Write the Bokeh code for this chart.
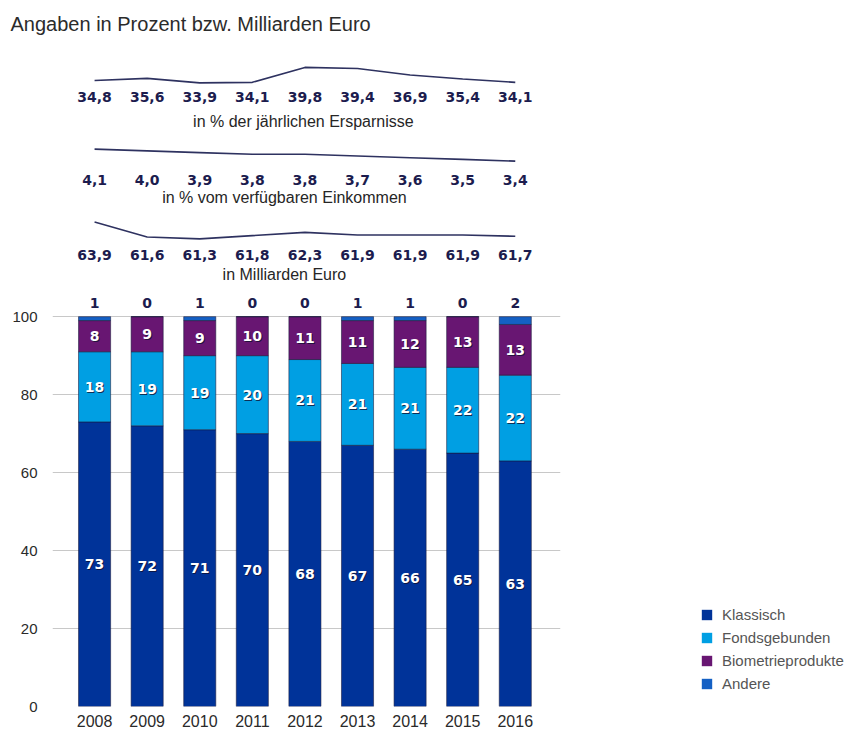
from bokeh.plotting import figure
from bokeh.layouts import row
from bokeh.models import ColumnDataSource, Range1d, FixedTicker, Legend, LegendItem
from bokeh.core.properties import value
from bokeh.embed import file_html
from bokeh.resources import INLINE

# ---------------- data ----------------
years = [2008, 2009, 2010, 2011, 2012, 2013, 2014, 2015, 2016]
klassisch = [73, 72, 71, 70, 68, 67, 66, 65, 63]
fondsgebunden = [18, 19, 19, 20, 21, 21, 21, 22, 22]
biometrie = [8, 9, 9, 10, 11, 11, 12, 13, 13]
andere = [1, 0, 1, 0, 0, 1, 1, 0, 2]
ersparnisse_pct = [34.8, 35.6, 33.9, 34.1, 39.8, 39.4, 36.9, 35.4, 34.1]
einkommen_pct = [4.1, 4.0, 3.9, 3.8, 3.8, 3.7, 3.6, 3.5, 3.4]
mrd_euro = [63.9, 61.6, 61.3, 61.8, 62.3, 61.9, 61.9, 61.9, 61.7]
y_ticks = [0, 20, 40, 60, 80, 100]
series_names = ["Klassisch", "Fondsgebunden", "Biometrieprodukte", "Andere"]
captions = ["in % der jährlichen Ersparnisse", "in % vom verfügbaren Einkommen", "in Milliarden Euro"]
title_text = "Angaben in Prozent bzw. Milliarden Euro"

# ---------------- layout constants (page pixels) ----------------
W, H = 861, 729
FL, FR = 52, 560          # frame left / right
FT, FB = 34, 708          # frame top / bottom
P100 = 317                # pixel row of the 100 % line
WMAIN = FR + 8
Y_END = 100.0 * (FB - FT) / (FB - P100)

def yrow(py):
    """convert a page pixel row into main-axis units"""
    return (FB - py) * 100.0 / (FB - P100)

def band_range(vals, py_hi, py_lo):
    vmax, vmin = max(vals), min(vals)
    s = (py_lo - py_hi) / (vmax - vmin)
    return Range1d(vmax - (FB - py_hi) / s, vmax + (py_hi - FT) / s)

colors = ["#003399", "#009fe3", "#681672", "#1460c4"]
navy = "#1c1c4e"
line_col = "#2e3260"
VAL_FONT = "DejaVu Sans"
TXT_FONT = "Liberation Sans"

p = figure(width=WMAIN, height=H, output_backend="svg", toolbar_location=None,
           x_range=Range1d(2007.2, 2016.86), y_range=Range1d(0, Y_END),
           min_border_left=FL, min_border_right=WMAIN - FR,
           min_border_top=FT, min_border_bottom=H - FB)
p.outline_line_color = None
p.background_fill_color = "white"
p.border_fill_color = "white"

# ---------------- title ----------------
p.title.text = title_text
p.title.align = "left"
p.title.offset = 10 - FL
p.title.text_font = TXT_FONT
p.title.text_font_size = "20px"
p.title.text_font_style = "normal"
p.title.text_color = "#2b2b2b"
p.title.standoff = 0

# ---------------- stacked bars ----------------
src = ColumnDataSource(dict(year=years, klassisch=klassisch, fonds=fondsgebunden,
                            bio=biometrie, andere=andere))
rs = p.vbar_stack(["klassisch", "fonds", "bio", "andere"], x="year", width=0.61,
                  color=colors, line_color="#1a1a3c", line_alpha=0.7, line_width=0.8,
                  source=src)

# labels inside bars
lab_x, lab_y, lab_t = [], [], []
for i, yr in enumerate(years):
    base = 0
    for vals in (klassisch, fondsgebunden, biometrie):
        lab_x.append(yr)
        lab_y.append(base + vals[i] / 2.0)
        lab_t.append(str(vals[i]))
        base += vals[i]
lsrc = ColumnDataSource(dict(x=lab_x, y=lab_y, t=lab_t))
p.text(x="x", y="y", text="t", source=lsrc, text_font=value(VAL_FONT), text_font_style="bold",
       text_font_size="14px", text_align="center", text_baseline="middle",
       text_color="#101030", text_alpha=0.8, x_offset=1, y_offset=1)
p.text(x="x", y="y", text="t", source=lsrc, text_font=value(VAL_FONT), text_font_style="bold",
       text_font_size="14px", text_align="center", text_baseline="middle", text_color="white")

# "Andere" values above bars
asrc = ColumnDataSource(dict(x=years, y=[yrow(303)] * len(years), t=[str(v) for v in andere]))
p.text(x="x", y="y", text="t", source=asrc, text_font=value(VAL_FONT), text_font_style="bold",
       text_font_size="14px", text_align="center", text_baseline="middle", text_color=navy)

# ---------------- small line charts ----------------
rows = [
    (ersparnisse_pct, 67, 82.5, 97, 121, 2011.97),
    (einkommen_pct, 149, 161, 180, 197, 2011.61),
    (mrd_euro, 222, 239, 255, 275, 2011.61),
]
for k, (vals, py_hi, py_lo, py_val, py_cap, cap_x) in enumerate(rows):
    name = f"l{k}"
    p.extra_y_ranges[name] = band_range(vals, py_hi, py_lo)
    p.line(x=years, y=vals, y_range_name=name, line_color=line_col, line_width=1.6)
    vsrc = ColumnDataSource(dict(x=years, y=[yrow(py_val)] * len(years),
                                 t=[f"{v:.1f}".replace(".", ",") for v in vals]))
    p.text(x="x", y="y", text="t", source=vsrc, text_font=value(VAL_FONT), text_font_style="bold",
           text_font_size="14px", text_align="center", text_baseline="middle", text_color=navy)
    csrc = ColumnDataSource(dict(x=[cap_x], y=[yrow(py_cap)], t=[captions[k]]))
    p.text(x="x", y="y", text="t", source=csrc, text_font=value(TXT_FONT),
           text_font_size="16px", text_align="center", text_baseline="middle", text_color="#262626")

# ---------------- axes / grid ----------------
p.yaxis.ticker = FixedTicker(ticks=y_ticks)
p.xaxis.ticker = FixedTicker(ticks=years)
for ax in (p.xaxis, p.yaxis):
    ax.axis_line_color = None
    ax.major_tick_line_color = None
    ax.minor_tick_line_color = None
    ax.major_label_text_color = "#2a2a2a"
    ax.major_label_text_font = TXT_FONT
p.yaxis.major_label_text_font_size = "15px"
p.xaxis.major_label_text_font_size = "16px"
p.yaxis.major_label_standoff = 9
p.xaxis.major_label_standoff = 2
p.xgrid.grid_line_color = None
p.ygrid.grid_line_color = "#c8c8c8"
p.ygrid.grid_line_width = 1.2

# ---------------- legend (separate panel on the right) ----------------
pl = figure(width=W - WMAIN, height=H, output_backend="svg", toolbar_location=None,
            x_range=Range1d(0, 1), y_range=Range1d(0, 1),
            min_border_left=0, min_border_right=0, min_border_top=0, min_border_bottom=0)
pl.axis.visible = False
pl.grid.grid_line_color = None
pl.outline_line_color = None
dummy = [pl.vbar(x=[5], top=[5], width=0.5, fill_color=c, line_color=None) for c in colors]
legend = Legend(items=[LegendItem(label=series_names[i], renderers=[dummy[i]]) for i in range(4)],
                location=(132, 13), orientation="vertical",
                glyph_width=13, glyph_height=13, label_height=20, spacing=3,
                label_standoff=9, padding=0, margin=0,
                label_text_font=TXT_FONT, label_text_font_size="15px", label_text_color="#555555",
                border_line_color=None, background_fill_alpha=0)
pl.add_layout(legend, "center")

layout = row(p, pl)
open("out.html", "w").write(file_html(layout, INLINE))
